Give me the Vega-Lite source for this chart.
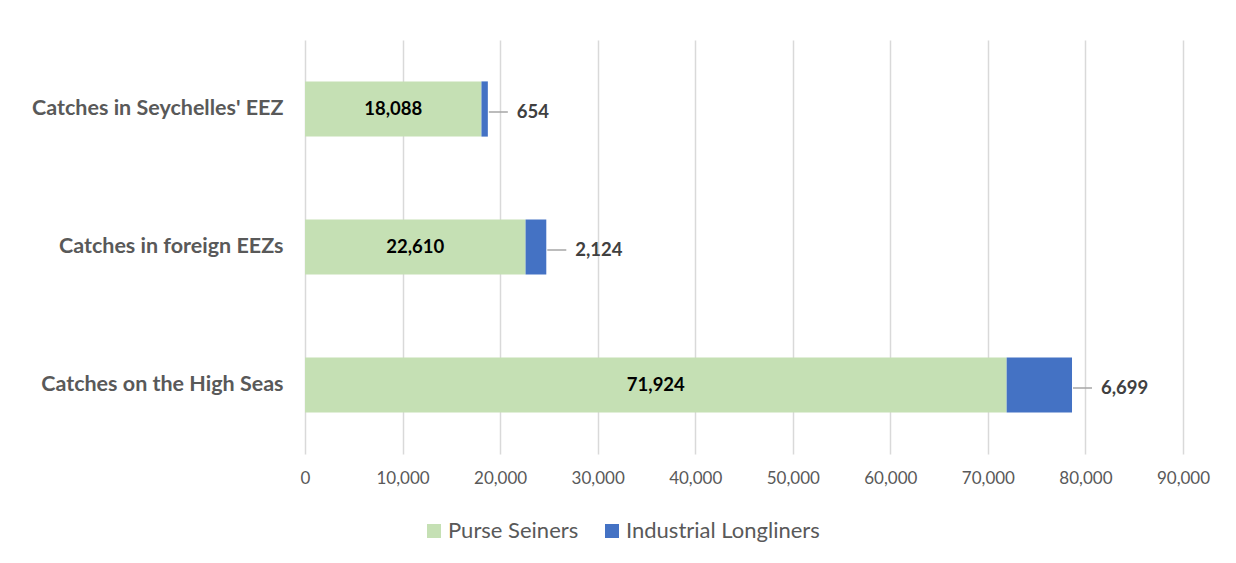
{
  "$schema": "https://vega.github.io/schema/vega-lite/v6.json",
  "width": 878,
  "height": 414,
  "autosize": {"type": "none"},
  "padding": {"left": 305, "top": 40, "right": 53, "bottom": 109},
  "background": "white",
  "config": {
    "view": {"stroke": null},
    "font": "Lato"
  },
  "data": {
    "values": [
      {"category": "Catches in Seychelles' EEZ", "type": "Purse Seiners", "value": 18088},
      {"category": "Catches in Seychelles' EEZ", "type": "Industrial Longliners", "value": 654},
      {"category": "Catches in foreign EEZs", "type": "Purse Seiners", "value": 22610},
      {"category": "Catches in foreign EEZs", "type": "Industrial Longliners", "value": 2124},
      {"category": "Catches on the High Seas", "type": "Purse Seiners", "value": 71924},
      {"category": "Catches on the High Seas", "type": "Industrial Longliners", "value": 6699}
    ]
  },
  "encoding": {
    "y": {
      "field": "category",
      "type": "nominal",
      "sort": ["Catches in Seychelles' EEZ", "Catches in foreign EEZs", "Catches on the High Seas"],
      "scale": {"paddingInner": 0.6, "paddingOuter": 0.3},
      "axis": {
        "title": null,
        "domain": false,
        "ticks": false,
        "grid": false,
        "labelPadding": 22,
        "labelFont": "Lato",
        "labelFontSize": 21.5,
        "labelFontWeight": "bold",
        "labelColor": "#595959",
        "labelLimit": 400
      }
    }
  },
  "layer": [
    {
      "mark": {"type": "bar"},
      "encoding": {
        "x": {
          "field": "value",
          "type": "quantitative",
          "stack": "zero",
          "scale": {"domain": [0, 90000], "nice": false},
          "axis": {
            "title": null,
            "domain": false,
            "ticks": false,
            "values": [0, 10000, 20000, 30000, 40000, 50000, 60000, 70000, 80000, 90000],
            "format": ",d",
            "grid": true,
            "gridColor": "#D9D9D9",
            "gridWidth": 1.5,
            "labelOverlap": false,
            "labelFlush": false,
            "labelBound": false,
            "labelPadding": 16,
            "labelFont": "Lato",
            "labelFontSize": 17,
            "labelColor": "#595959"
          }
        },
        "color": {
          "field": "type",
          "type": "nominal",
          "scale": {"domain": ["Purse Seiners", "Industrial Longliners"], "range": ["#C5E0B4", "#4472C4"]},
          "legend": {
            "title": null,
            "orient": "none",
            "legendX": 118,
            "legendY": 480,
            "padding": 0,
            "direction": "horizontal",
            "symbolType": "square",
            "symbolSize": 196,
            "symbolStrokeWidth": 0,
            "labelFont": "Lato",
            "labelFontSize": 22,
            "labelColor": "#595959",
            "columnPadding": 22,
            "labelOffset": 3,
            "labelLimit": 300
          }
        },
        "order": {"field": "type", "sort": "descending"}
      }
    },
    {
      "transform": [
        {"filter": "datum.type === 'Purse Seiners'"},
        {"calculate": "datum.value / 2", "as": "mid"}
      ],
      "mark": {"type": "text", "font": "Lato", "fontSize": 18.5, "fontWeight": "bold", "color": "#000000", "baseline": "middle", "align": "center"},
      "encoding": {
        "x": {"field": "mid", "type": "quantitative"},
        "text": {"field": "value", "type": "quantitative", "format": ","}
      }
    },
    {
      "transform": [
        {"joinaggregate": [{"op": "sum", "field": "value", "as": "total"}], "groupby": ["category"]},
        {"filter": "datum.type === 'Industrial Longliners'"}
      ],
      "mark": {"type": "rule", "color": "#A6A6A6", "strokeWidth": 1.5, "xOffset": 1, "x2Offset": 20, "yOffset": 3, "y2Offset": 3},
      "encoding": {
        "x": {"field": "total", "type": "quantitative"},
        "x2": {"field": "total"}
      }
    },
    {
      "transform": [
        {"joinaggregate": [{"op": "sum", "field": "value", "as": "total"}], "groupby": ["category"]},
        {"filter": "datum.type === 'Industrial Longliners'"}
      ],
      "mark": {"type": "text", "font": "Lato", "fontSize": 18.5, "fontWeight": "bold", "color": "#404040", "baseline": "middle", "align": "left", "dx": 29, "dy": 3},
      "encoding": {
        "x": {"field": "total", "type": "quantitative"},
        "text": {"field": "value", "type": "quantitative", "format": ","}
      }
    }
  ]
}
